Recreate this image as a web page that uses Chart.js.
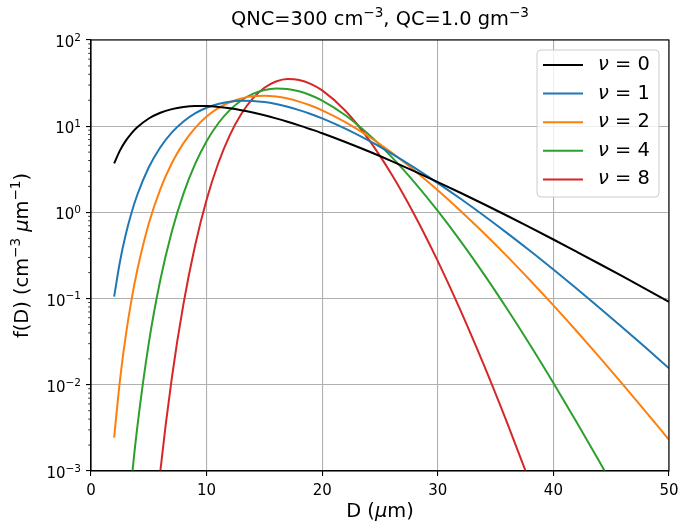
<!DOCTYPE html>
<html><head><meta charset="utf-8">
<script src="https://cdn.jsdelivr.net/npm/chart.js@4.4.1/dist/chart.umd.min.js"></script>
<style>html,body{margin:0;padding:0;background:#fff;} #wrap{width:679px;height:523px;}</style>
</head><body><div id="wrap"><canvas id="c" width="679" height="523"></canvas></div>
<script>
// ---- data ----
const diameters = [2, 2.5, 3, 3.5, 4, 5, 6, 7, 8, 9, 10, 11, 12, 13, 14, 15, 16, 17, 18, 19, 20, 22, 24, 26, 28, 30, 32, 34, 36, 38, 40, 42, 44, 46, 48, 50];
const nu0 = [3.70, 5.21, 6.75, 8.27, 9.71, 12.29, 14.33, 15.79, 16.70, 17.11, 17.10, 16.75, 16.14, 15.33, 14.40, 13.38, 12.33, 11.27, 10.23, 9.22, 8.28, 6.56, 5.12, 3.94, 2.99, 2.25, 1.680, 1.243, 0.914, 0.667, 0.485, 0.350, 0.252, 0.1805, 0.1288, 0.0916];
const nu1 = [0.1053, 0.266, 0.549, 0.984, 1.591, 3.34, 5.71, 8.48, 11.36, 14.06, 16.36, 18.11, 19.23, 19.71, 19.62, 19.04, 18.07, 16.82, 15.38, 13.85, 12.30, 9.36, 6.83, 4.81, 3.29, 2.19, 1.430, 0.915, 0.575, 0.356, 0.217, 0.1308, 0.0780, 0.0460, 0.0269, 0.01557];
const nu2 = [0.00244, 0.01113, 0.0366, 0.0960, 0.213, 0.743, 1.866, 3.74, 6.36, 9.52, 12.93, 16.19, 18.96, 21.01, 22.20, 22.52, 22.04, 20.91, 19.29, 17.36, 15.29, 11.18, 7.65, 4.95, 3.05, 1.809, 1.034, 0.573, 0.309, 0.1623, 0.0835, 0.0421, 0.0208, 0.01014, 0.00486, 0.00230];
const nu4 = [null, null, 0.000134, 0.000754, 0.00318, 0.0305, 0.1653, 0.604, 1.653, 3.63, 6.71, 10.75, 15.35, 19.87, 23.68, 26.27, 27.38, 27.02, 25.38, 22.85, 19.79, 13.39, 8.07, 4.41, 2.22, 1.040, 0.458, 0.1908, 0.0757, 0.0288, 0.01052, 0.00371, 0.00127, 0.000422, null, null];
const nu8 = [null, null, null, null, null, 0.0000397, 0.001004, 0.01221, 0.0868, 0.410, 1.401, 3.69, 7.83, 13.85, 21.01, 27.91, 33.00, 35.27, 34.42, 31.00, 26.00, 15.12, 7.09, 2.77, 0.928, 0.272, 0.0711, 0.0168, 0.00362, 0.00072, null, null, null, null, null, null];

const seriesLabels = ['ν = 0', 'ν = 1', 'ν = 2', 'ν = 4', 'ν = 8'];
const seriesColors = ['#000000', '#1f77b4', '#ff7f0e', '#2ca02c', '#d62728'];
const xTickValues = [0, 10, 20, 30, 40, 50];
const yDecades = [-3, -2, -1, 0, 1, 2];
// ^{..} = superscript, `..` = italic (math style)
const yTickLabels = ['10^{−3}', '10^{−2}', '10^{−1}', '10^{0}', '10^{1}', '10^{2}'];
const titleText = 'QNC=300 cm^{−3}, QC=1.0 gm^{−3}';
const xLabel = 'D (`μ`m)';
const yLabel = 'f(D) (cm^{−3} `μ`m^{−1})';

// ---- helpers ----
const FONT = 'DejaVu Sans';
const isPow10 = v => { const l = Math.log10(v); return Math.abs(l - Math.round(l)) < 1e-9; };

function parseRich(s) {
  const out = [];
  let i = 0, buf = '';
  const flush = () => { if (buf) { out.push({t: buf, sup: false, it: false}); buf = ''; } };
  while (i < s.length) {
    if (s[i] === '^' && s[i + 1] === '{') {
      flush();
      const j = s.indexOf('}', i);
      out.push({t: s.slice(i + 2, j), sup: true, it: false});
      i = j + 1;
    } else if (s[i] === '`') {
      flush();
      const j = s.indexOf('`', i + 1);
      out.push({t: s.slice(i + 1, j), sup: false, it: true});
      i = j + 1;
    } else { buf += s[i]; i++; }
  }
  flush();
  return out;
}
function segFont(seg, size) {
  const sz = seg.sup ? size * 0.7 : size;
  return (seg.it ? 'italic ' : '') + sz + 'px "' + FONT + '"';
}
// draw rich text at (px, baseline); align 'center' or 'right'; optional rotation
function drawRich(ctx, str, px, by, size, rot, align) {
  const segs = parseRich(str);
  ctx.save();
  ctx.translate(px, by);
  if (rot) ctx.rotate(rot);
  ctx.textBaseline = 'alphabetic';
  ctx.textAlign = 'left';
  ctx.fillStyle = '#000';
  let total = 0;
  segs.forEach(s => { ctx.font = segFont(s, size); s.w = ctx.measureText(s.t).width; total += s.w; });
  let x = align === 'right' ? -total : -total / 2;
  segs.forEach(s => {
    ctx.font = segFont(s, size);
    ctx.fillText(s.t, x, s.sup ? -size * 0.42 : 0);
    x += s.w;
  });
  ctx.restore();
}

// ---- chart ----
const series = [nu0, nu1, nu2, nu4, nu8];
const datasets = series.map((s, i) => ({
  label: seriesLabels[i],
  data: diameters.map((d, j) => ({x: d, y: s[j]})),
  borderColor: seriesColors[i],
  backgroundColor: seriesColors[i],
  borderWidth: 2,
  pointRadius: 0,
  pointHoverRadius: 0,
  fill: false,
  spanGaps: false,
  cubicInterpolationMode: 'monotone'
}));

const mplDecor = {
  id: 'mplDecor',
  afterDraw(chart) {
    const {ctx, chartArea: a} = chart;
    ctx.save();
    const ys = chart.scales.y;
    // minor ticks on log axis
    ctx.strokeStyle = '#000';
    ctx.lineWidth = 0.8;
    ys.ticks.forEach(t => {
      if (!isPow10(t.value)) {
        const y = ys.getPixelForValue(t.value);
        ctx.beginPath(); ctx.moveTo(a.left - 2.8, y); ctx.lineTo(a.left, y); ctx.stroke();
      }
    });
    // major y tick labels (math-style superscripts), placed by the scale
    yDecades.forEach((n, i) => {
      const y = ys.getPixelForValue(Math.pow(10, n));
      drawRich(ctx, yTickLabels[i], a.left - 10, y + 7, 15, 0, 'right');
    });
    // spines
    ctx.strokeStyle = '#000';
    ctx.lineWidth = 1.1;
    ctx.strokeRect(a.left, a.top, a.right - a.left, a.bottom - a.top);
    // titles
    const cx = (a.left + a.right) / 2, cy = (a.top + a.bottom) / 2;
    drawRich(ctx, titleText, cx, 25, 19.4, 0, 'center');
    drawRich(ctx, xLabel, cx, 517, 19.4, 0, 'center');
    drawRich(ctx, yLabel, 28, cy, 19.4, -Math.PI / 2, 'center');
    // legend
    const w = 122, h = 147;
    const x0 = a.right - 10 - w, y0 = a.top + 10;
    const r = 4;
    ctx.beginPath();
    ctx.moveTo(x0 + r, y0);
    ctx.lineTo(x0 + w - r, y0); ctx.quadraticCurveTo(x0 + w, y0, x0 + w, y0 + r);
    ctx.lineTo(x0 + w, y0 + h - r); ctx.quadraticCurveTo(x0 + w, y0 + h, x0 + w - r, y0 + h);
    ctx.lineTo(x0 + r, y0 + h); ctx.quadraticCurveTo(x0, y0 + h, x0, y0 + h - r);
    ctx.lineTo(x0, y0 + r); ctx.quadraticCurveTo(x0, y0, x0 + r, y0);
    ctx.closePath();
    ctx.fillStyle = 'rgba(255,255,255,0.8)';
    ctx.fill();
    ctx.strokeStyle = '#cccccc';
    ctx.lineWidth = 1;
    ctx.stroke();
    chart.data.datasets.forEach((ds, i) => {
      const y = y0 + 15 + i * 28.6;
      ctx.strokeStyle = ds.borderColor;
      ctx.lineWidth = 2;
      ctx.beginPath(); ctx.moveTo(x0 + 6, y); ctx.lineTo(x0 + 46, y); ctx.stroke();
      ctx.fillStyle = '#000';
      ctx.textBaseline = 'middle';
      ctx.textAlign = 'left';
      const first = ds.label.charAt(0), rest = ds.label.slice(1);
      ctx.font = 'italic 19.4px "' + FONT + '"';
      ctx.fillText(first, x0 + 61, y);
      const fw = ctx.measureText(first).width;
      ctx.font = '19.4px "' + FONT + '"';
      ctx.fillText(rest, x0 + 61 + fw, y);
    });
    ctx.restore();
  }
};

new Chart(document.getElementById('c'), {
  type: 'line',
  data: {datasets},
  plugins: [mplDecor],
  options: {
    responsive: false,
    animation: false,
    devicePixelRatio: 1,
    layout: {padding: {top: 40, right: 10, left: 0, bottom: 0}},
    plugins: {
      legend: {display: false},
      tooltip: {enabled: false},
      title: {display: false}
    },
    scales: {
      x: {
        type: 'linear',
        min: 0, max: 50,
        afterFit: s => { s.height = 52; s.paddingRight = 0; s.paddingLeft = 0; },
        afterBuildTicks: s => { s.ticks = xTickValues.map(v => ({value: v})); },
        ticks: {color: '#000', font: {family: FONT, size: 15}, padding: 6, maxRotation: 0, autoSkip: false,
                callback: v => String(v)},
        grid: {color: '#b0b0b0', lineWidth: 1.1, tickColor: '#000', tickLength: 5, tickWidth: 1.1},
        border: {color: '#000', width: 1.1},
        title: {display: false}
      },
      y: {
        type: 'logarithmic',
        min: 1e-3, max: 1e2,
        afterFit: s => { s.width = 91; s.paddingTop = 0; s.paddingBottom = 0; },
        afterBuildTicks: s => {
          const t = [];
          yDecades.forEach(n => {
            for (let m = 1; m <= 9; m++) {
              if (n === 2 && m > 1) break;
              t.push({value: parseFloat((m * Math.pow(10, n)).toPrecision(6))});
            }
          });
          s.ticks = t;
        },
        ticks: {display: false, autoSkip: false},
        grid: {
          color: c => (c.tick && isPow10(c.tick.value)) ? '#b0b0b0' : 'rgba(0,0,0,0)',
          tickColor: c => (c.tick && isPow10(c.tick.value)) ? '#000' : 'rgba(0,0,0,0)',
          lineWidth: 1.1, tickLength: 5, tickWidth: 1.1
        },
        border: {color: '#000', width: 1.1},
        title: {display: false}
      }
    }
  }
});
</script>
</body></html>
